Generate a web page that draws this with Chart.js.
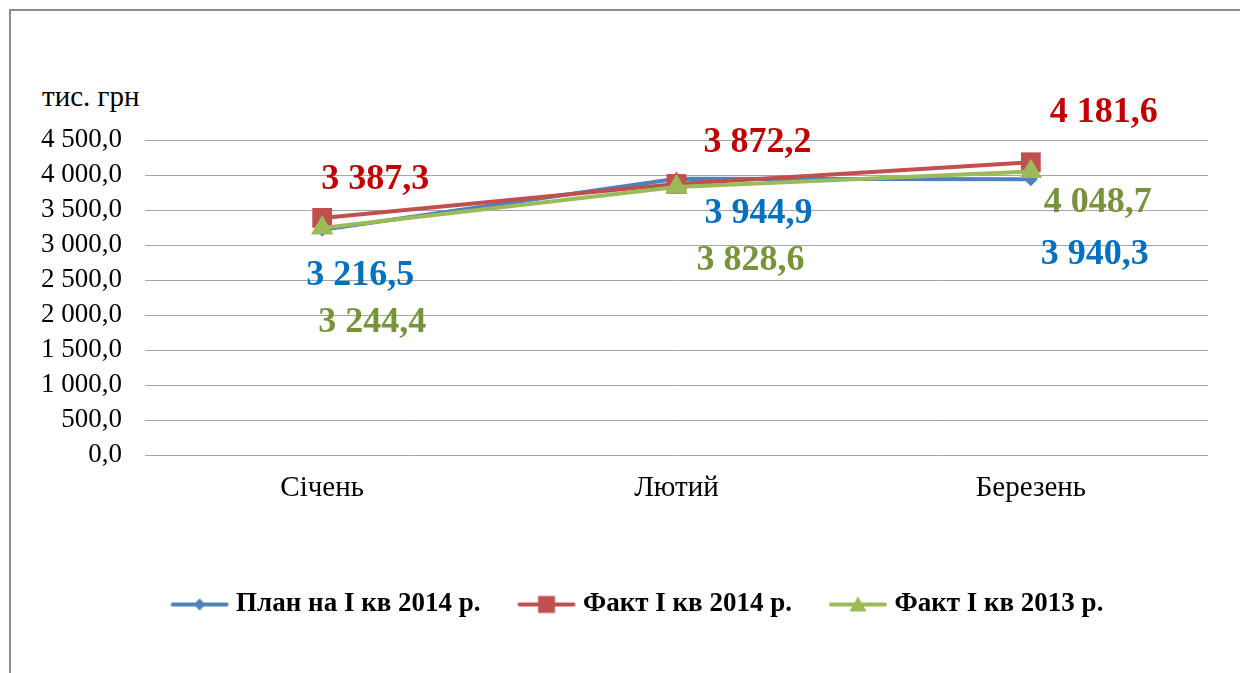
<!DOCTYPE html>
<html lang="uk">
<head>
<meta charset="utf-8">
<title>Виконання плану, тис. грн</title>
<script src="https://cdn.jsdelivr.net/npm/chart.js@4.4.1/dist/chart.umd.min.js"></script>
<style>
  html, body { margin: 0; padding: 0; background: #fff; }
  #wrap { position: relative; width: 1240px; height: 673px; overflow: hidden; }
  #frame { position: absolute; left: 9px; top: 9px; width: 1300px; height: 700px; border: 2px solid #8c8c8c; }
  #unit { position: absolute; left: 42px; top: 82px; font: 29px/29px 'Liberation Serif', 'Times New Roman', serif; color: #000; }
  canvas { position: absolute; left: 0; top: 0; }
</style>
</head>
<body>
<div id="wrap">
  <div id="frame"></div>
  <div id="unit">тис. грн</div>
  <canvas id="chart" width="1240" height="673"></canvas>
</div>
<script>
// Дані
const months = ['Січень', 'Лютий', 'Березень'];
const seriesNames = ['План на І кв 2014 р.', 'Факт І кв 2014 р.', 'Факт І кв 2013 р.'];
const plan2014 = [3216.5, 3944.9, 3940.3];
const fact2014 = [3387.3, 3872.2, 4181.6];
const fact2013 = [3244.4, 3828.6, 4048.7];
const yMin = 0;
const yMax = 4500;
const yStep = 500;

// Зсуви підписів відносно точок (px)
const labelOffsets = [
    [[38, 46], [82, 35], [64, 76]],
    [[53, -38], [81, -41], [73, -50]],
    [[50, 95], [74, 74], [67, 31]]
];
const legendShift = 21;

const serif = "'Liberation Serif', 'Times New Roman', serif";

// 3 387,3
function fmt(v) {
    const parts = v.toFixed(1).split('.');
    return parts[0].replace(/\B(?=(\d{3})+(?!\d))/g, ' ') + ',' + parts[1];
}

// Значок легенди: лінія з маркером
function legendIcon(color, style, radius) {
    const c = document.createElement('canvas');
    c.width = 60;
    c.height = 28;
    const ctx = c.getContext('2d');
    ctx.strokeStyle = color;
    ctx.lineWidth = 4;
    ctx.lineCap = 'round';
    ctx.beginPath();
    ctx.moveTo(3, 14);
    ctx.lineTo(57, 14);
    ctx.stroke();
    ctx.fillStyle = color;
    Chart.helpers.drawPoint(ctx, { pointStyle: style, radius: radius, rotation: 0, borderWidth: 0 }, 30, style === 'triangle' ? 16 : 14);
    return c;
}

const seriesStyle = [
    { color: '#4f81bd', label: '#0070c0', point: 'rectRot', radius: 7, legendRadius: 6 },
    { color: '#c0504d', label: '#c00000', point: 'rect', radius: 14, legendRadius: 12 },
    { color: '#9bbb59', label: '#77933c', point: 'triangle', radius: 13, legendRadius: 10 }
];
const seriesData = [plan2014, fact2014, fact2013];

const valueLabels = {
    id: 'valueLabels',
    afterDatasetsDraw(chart) {
        const ctx = chart.ctx;
        ctx.save();
        ctx.font = 'bold 36px ' + serif;
        ctx.textAlign = 'center';
        ctx.textBaseline = 'middle';
        chart.data.datasets.forEach((ds, i) => {
            const meta = chart.getDatasetMeta(i);
            ctx.fillStyle = seriesStyle[i].label;
            meta.data.forEach((pt, j) => {
                const off = labelOffsets[i][j];
                ctx.fillText(fmt(ds.data[j]), pt.x + off[0], pt.y + off[1]);
            });
        });
        ctx.restore();
    }
};

// легенду трохи правіше, як в оригіналі
const shiftLegend = {
    id: 'shiftLegend',
    afterLayout(chart) {
        chart.legend.left += legendShift;
        chart.legend.right += legendShift;
    }
};

new Chart(document.getElementById('chart'), {
    type: 'line',
    data: {
        labels: months,
        datasets: seriesData.map((d, i) => ({
            label: seriesNames[i],
            data: d,
            borderColor: seriesStyle[i].color,
            backgroundColor: seriesStyle[i].color,
            borderWidth: 4,
            pointStyle: seriesStyle[i].point,
            pointRadius: seriesStyle[i].radius,
            pointBorderWidth: 0,
            pointBackgroundColor: seriesStyle[i].color,
            tension: 0,
            order: 3 - i
        }))
    },
    options: {
        responsive: false,
        devicePixelRatio: 1,
        animation: false,
        layout: { padding: { top: 140, left: 30, right: 32, bottom: 45 } },
        scales: {
            x: {
                offset: true,
                grid: { display: false, drawTicks: false },
                border: { display: false },
                ticks: { color: '#000', font: { family: serif, size: 29 }, padding: 16 },
                afterFit(scale) { scale.height = 93; }
            },
            y: {
                min: yMin,
                max: yMax,
                grid: { color: '#a6a6a6', lineWidth: 1, drawTicks: false },
                border: { display: false },
                ticks: {
                    stepSize: yStep,
                    autoSkip: false,
                    color: '#000',
                    font: { family: serif, size: 27 },
                    padding: 23,
                    callback: v => fmt(v)
                },
                afterFit(scale) { scale.width = 115; }
            }
        },
        plugins: {
            tooltip: { enabled: false },
            legend: {
                position: 'bottom',
                labels: {
                    usePointStyle: true,
                    pointStyleWidth: 46,
                    padding: 43,
                    color: '#000',
                    font: { family: serif, size: 27, weight: 'bold' },
                    sort: (a, b) => a.datasetIndex - b.datasetIndex,
                    generateLabels(chart) {
                        return chart.data.datasets.map((ds, i) => ({
                            text: ds.label,
                            datasetIndex: i,
                            pointStyle: legendIcon(seriesStyle[i].color, seriesStyle[i].point, seriesStyle[i].legendRadius),
                            fillStyle: seriesStyle[i].color,
                            strokeStyle: seriesStyle[i].color,
                            lineWidth: 0,
                            hidden: false,
                            fontColor: '#000'
                        }));
                    }
                }
            }
        }
    },
    plugins: [valueLabels, shiftLegend]
});
</script>
</body>
</html>
